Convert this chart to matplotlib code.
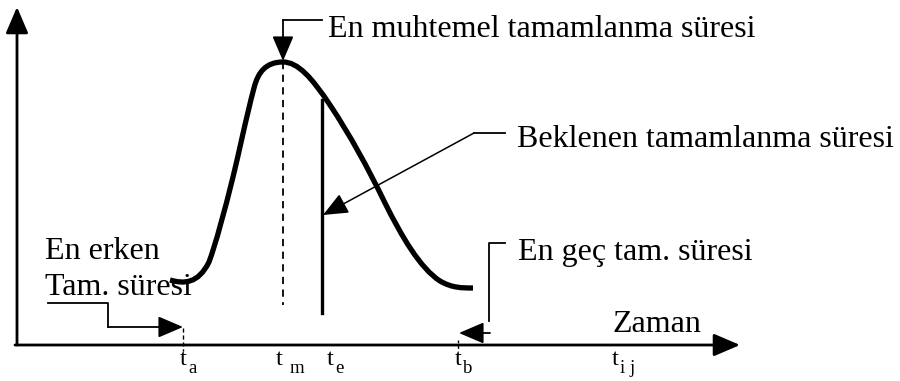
import matplotlib
matplotlib.use("Agg")
import matplotlib.pyplot as plt
from matplotlib.path import Path
from matplotlib.patches import PathPatch

# Beta-like activity duration curve as cubic Bezier segments
# (drawing coordinates, y grows downward): anchor, handle, handle, anchor ...
curve_x = [170, 184, 198, 209,
           216, 224, 233,
           238, 246, 254,
           258, 266, 283,
           298, 312, 330,
           350, 368, 385,
           402, 420, 440,
           452, 462, 473]
curve_y = [280, 284, 284, 262,
           243, 213, 177,
           157, 118, 88,
           72, 62, 62,
           62, 78, 105,
           135, 168, 203,
           237, 268, 281,
           288, 288, 288]

# Characteristic times on the time axis
t_a, t_m, t_e, t_b = 183, 283, 322, 458
peak_y, te_top = 62, 100
axis_y, axis_x0, axis_x1 = 345, 15, 740
yaxis_x, yaxis_top = 17, 7

# Tick labels: main letter, subscript, x position of main letter
tick_labels = [("t", "a", 180), ("t", "m", 276), ("t", "e", 327),
               ("t", "b", 455), ("t", "i j", 612)]

label_top = "En muhtemel tamamlanma süresi"
label_expected = "Beklenen tamamlanma süresi"
label_early = ["En erken", "Tam. süresi"]
label_late = "En geç tam. süresi"
label_axis = "Zaman"

FONT = "Liberation Serif"
FS = 23

fig = plt.figure(figsize=(9, 3.81), dpi=100)
ax = fig.add_axes([0, 0, 1, 1])
ax.set_xlim(0, 900)
ax.set_ylim(381, 0)
ax.axis("off")

def arrow(tip, start, lw=1.3, scale=22):
    ax.annotate("", xy=tip, xytext=start,
                arrowprops=dict(arrowstyle="-|>,head_length=0.7,head_width=0.3",
                                mutation_scale=scale, lw=lw, color="black",
                                shrinkA=0, shrinkB=0))

# Axes
arrow((axis_x1, axis_y), (axis_x0, axis_y), lw=2.0, scale=23)
arrow((yaxis_x, yaxis_top), (yaxis_x, axis_y), lw=2.0, scale=23)

# Curve
codes = [Path.MOVETO] + [Path.CURVE4] * (len(curve_x) - 1)
path = Path(list(zip(curve_x, curve_y)), codes)
ax.add_patch(PathPatch(path, fill=False, edgecolor="black", lw=3.8,
                       capstyle="butt", joinstyle="round"))

# Most likely time (dashed) and expected time (solid)
ax.plot([t_m, t_m], [peak_y, 305], color="black", lw=1.3, ls=(0, (4, 3)))
ax.plot([t_e, t_e], [te_top, 313], color="black", lw=2.4)

# Small tick marks at t_a and t_b
ax.plot([t_a, t_a], [328, 351], color="black", lw=1.0, ls=(0, (3, 2)))
ax.plot([t_b, t_b], [340, 351], color="black", lw=1.0, ls=(0, (2, 2)))

# Leader: most likely duration
ax.plot([322, t_m], [20, 20], color="black", lw=1.3)
arrow((t_m, peak_y - 1), (t_m, 20))
ax.text(328, 37, label_top, family=FONT, fontsize=FS, va="baseline")

# Leader: expected duration
ax.plot([505, 474], [133, 133], color="black", lw=1.3)
arrow((t_e + 1, 215), (474, 133), lw=1.1)
ax.text(517, 147, label_expected, family=FONT, fontsize=FS, va="baseline")

# Leader: earliest completion
ax.plot([48, 108, 108], [303, 303, 327], color="black", lw=1.3)
arrow((t_a, 327), (108, 327))
for line, base in zip(label_early, [259, 295]):
    ax.text(45, base, line, family=FONT, fontsize=FS, va="baseline")

# Leader: latest completion
ax.plot([505, 489, 489], [243, 243, 321], color="black", lw=1.3)
arrow((t_b + 1, 333), (490, 333))
ax.text(518, 260, label_late, family=FONT, fontsize=FS, va="baseline")

# Axis title
ax.text(612, 332, label_axis, family=FONT, fontsize=FS, va="baseline")

# Tick labels with subscripts
for main, sub, x in tick_labels:
    ax.text(x, 365, main, family=FONT, fontsize=17.5, va="baseline")
    ax.text(x + (14 if sub == "m" else 8), 373, sub,
            family=FONT, fontsize=13.5, va="baseline")

fig.savefig("out.png", dpi=100, facecolor="white")
